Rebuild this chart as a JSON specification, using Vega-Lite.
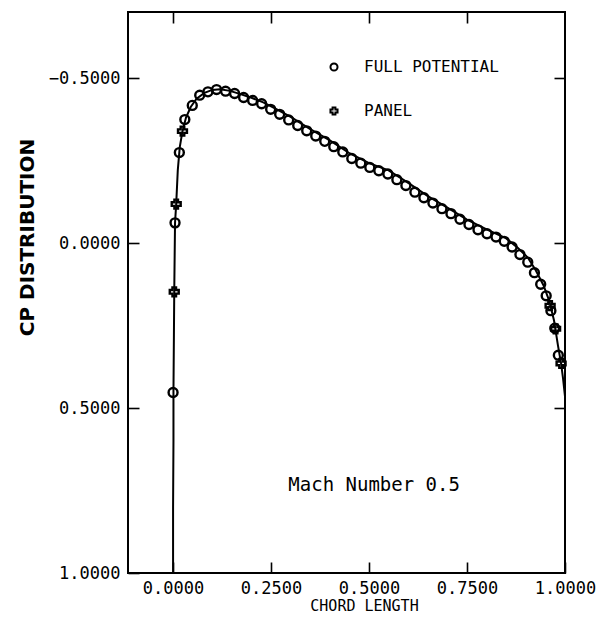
{
  "$schema": "https://vega.github.io/schema/vega-lite/v6.json",
  "width": 437,
  "height": 561,
  "autosize": {"type": "none"},
  "padding": {"left": 128, "top": 12, "right": 43, "bottom": 50},
  "background": "white",
  "config": {
    "view": {"stroke": "black", "strokeWidth": 2},
    "axis": {
      "domain": false,
      "grid": false,
      "tickColor": "black",
      "tickWidth": 1.6,
      "tickSize": -11,
      "labelFont": "DejaVu Sans Mono",
      "labelFontSize": 17,
      "labelColor": "black",
      "labelFlush": false,
      "labelOverlap": false,
      "titleColor": "black"
    }
  },
  "datasets": {
    "panel": [
      {"x": 0.0, "cp": 1.0}, {"x": 0.0, "cp": 0.8}, {"x": 0.001, "cp": 0.6}, {"x": 0.001, "cp": 0.453},
      {"x": 0.002, "cp": 0.3}, {"x": 0.003, "cp": 0.148}, {"x": 0.005, "cp": -0.061}, {"x": 0.008, "cp": -0.118},
      {"x": 0.012, "cp": -0.22}, {"x": 0.017, "cp": -0.29}, {"x": 0.024, "cp": -0.339}, {"x": 0.033, "cp": -0.38},
      {"x": 0.045, "cp": -0.412}, {"x": 0.06, "cp": -0.437}, {"x": 0.08, "cp": -0.455}, {"x": 0.1, "cp": -0.464},
      {"x": 0.12, "cp": -0.466}, {"x": 0.145, "cp": -0.461}, {"x": 0.17, "cp": -0.452}, {"x": 0.2, "cp": -0.44},
      {"x": 0.23, "cp": -0.426}, {"x": 0.26, "cp": -0.408}, {"x": 0.3, "cp": -0.382}, {"x": 0.35, "cp": -0.345},
      {"x": 0.4, "cp": -0.311}, {"x": 0.45, "cp": -0.272}, {"x": 0.5, "cp": -0.242}, {"x": 0.55, "cp": -0.22},
      {"x": 0.6, "cp": -0.182}, {"x": 0.65, "cp": -0.142}, {"x": 0.7, "cp": -0.107}, {"x": 0.75, "cp": -0.071},
      {"x": 0.8, "cp": -0.041}, {"x": 0.85, "cp": -0.014}, {"x": 0.88, "cp": 0.015}, {"x": 0.905, "cp": 0.044},
      {"x": 0.925, "cp": 0.082}, {"x": 0.945, "cp": 0.128}, {"x": 0.96, "cp": 0.176}, {"x": 0.972, "cp": 0.235},
      {"x": 0.982, "cp": 0.31}, {"x": 0.99, "cp": 0.365}, {"x": 0.995, "cp": 0.41}, {"x": 1.0, "cp": 0.465}
    ],
    "points": [
      {"series": "FULL POTENTIAL", "x": 0.0, "cp": 0.453}, {"series": "FULL POTENTIAL", "x": 0.005, "cp": -0.061},
      {"series": "FULL POTENTIAL", "x": 0.016, "cp": -0.274}, {"series": "FULL POTENTIAL", "x": 0.03, "cp": -0.374},
      {"series": "FULL POTENTIAL", "x": 0.049, "cp": -0.417}, {"series": "FULL POTENTIAL", "x": 0.068, "cp": -0.448},
      {"series": "FULL POTENTIAL", "x": 0.089, "cp": -0.458}, {"series": "FULL POTENTIAL", "x": 0.111, "cp": -0.465},
      {"series": "FULL POTENTIAL", "x": 0.134, "cp": -0.46}, {"series": "FULL POTENTIAL", "x": 0.157, "cp": -0.453},
      {"series": "FULL POTENTIAL", "x": 0.18, "cp": -0.441}, {"series": "FULL POTENTIAL", "x": 0.203, "cp": -0.432},
      {"series": "FULL POTENTIAL", "x": 0.226, "cp": -0.422}, {"series": "FULL POTENTIAL", "x": 0.249, "cp": -0.405},
      {"series": "FULL POTENTIAL", "x": 0.272, "cp": -0.39}, {"series": "FULL POTENTIAL", "x": 0.295, "cp": -0.373},
      {"series": "FULL POTENTIAL", "x": 0.318, "cp": -0.356}, {"series": "FULL POTENTIAL", "x": 0.341, "cp": -0.34},
      {"series": "FULL POTENTIAL", "x": 0.364, "cp": -0.324}, {"series": "FULL POTENTIAL", "x": 0.387, "cp": -0.308},
      {"series": "FULL POTENTIAL", "x": 0.41, "cp": -0.292}, {"series": "FULL POTENTIAL", "x": 0.433, "cp": -0.276},
      {"series": "FULL POTENTIAL", "x": 0.456, "cp": -0.256}, {"series": "FULL POTENTIAL", "x": 0.479, "cp": -0.242},
      {"series": "FULL POTENTIAL", "x": 0.502, "cp": -0.229}, {"series": "FULL POTENTIAL", "x": 0.525, "cp": -0.219},
      {"series": "FULL POTENTIAL", "x": 0.548, "cp": -0.209}, {"series": "FULL POTENTIAL", "x": 0.571, "cp": -0.192},
      {"series": "FULL POTENTIAL", "x": 0.594, "cp": -0.174}, {"series": "FULL POTENTIAL", "x": 0.617, "cp": -0.154},
      {"series": "FULL POTENTIAL", "x": 0.64, "cp": -0.137}, {"series": "FULL POTENTIAL", "x": 0.663, "cp": -0.121},
      {"series": "FULL POTENTIAL", "x": 0.686, "cp": -0.104}, {"series": "FULL POTENTIAL", "x": 0.709, "cp": -0.089},
      {"series": "FULL POTENTIAL", "x": 0.732, "cp": -0.072}, {"series": "FULL POTENTIAL", "x": 0.755, "cp": -0.056},
      {"series": "FULL POTENTIAL", "x": 0.778, "cp": -0.04}, {"series": "FULL POTENTIAL", "x": 0.801, "cp": -0.028},
      {"series": "FULL POTENTIAL", "x": 0.824, "cp": -0.018}, {"series": "FULL POTENTIAL", "x": 0.845, "cp": -0.005},
      {"series": "FULL POTENTIAL", "x": 0.865, "cp": 0.012}, {"series": "FULL POTENTIAL", "x": 0.885, "cp": 0.035},
      {"series": "FULL POTENTIAL", "x": 0.905, "cp": 0.058}, {"series": "FULL POTENTIAL", "x": 0.922, "cp": 0.09},
      {"series": "FULL POTENTIAL", "x": 0.938, "cp": 0.125}, {"series": "FULL POTENTIAL", "x": 0.952, "cp": 0.16},
      {"series": "FULL POTENTIAL", "x": 0.964, "cp": 0.205}, {"series": "FULL POTENTIAL", "x": 0.974, "cp": 0.258},
      {"series": "FULL POTENTIAL", "x": 0.983, "cp": 0.34},
      {"series": "PANEL", "x": 0.003, "cp": 0.148}, {"series": "PANEL", "x": 0.008, "cp": -0.118},
      {"series": "PANEL", "x": 0.024, "cp": -0.339}, {"series": "PANEL", "x": 0.962, "cp": 0.19},
      {"series": "PANEL", "x": 0.976, "cp": 0.26}, {"series": "PANEL", "x": 0.99, "cp": 0.365}
    ],
    "note": [{"label": "Mach Number 0.5"}]
  },
  "layer": [
    {
      "data": {"name": "panel"},
      "mark": {"type": "line", "color": "black", "strokeWidth": 2},
      "encoding": {
        "x": {
          "field": "x", "type": "quantitative",
          "scale": {"domain": [-0.115, 1.0], "nice": false, "zero": false},
          "axis": {
            "orient": "bottom", "values": [0, 0.25, 0.5, 0.75, 1], "format": ".4f",
            "labelPadding": 18,
            "title": "CHORD LENGTH", "titleFont": "DejaVu Sans Mono", "titleFontSize": 15, "titleFontWeight": "normal",
            "titleX": 236, "titleY": 32, "titleBaseline": "middle", "titleAlign": "center"
          }
        },
        "y": {
          "field": "cp", "type": "quantitative",
          "scale": {"domain": [-0.7, 1.0], "nice": false, "zero": false, "reverse": true},
          "axis": {
            "orient": "left", "values": [-0.5, 0, 0.5, 1], "format": ".4f",
            "labelPadding": 19,
            "title": "CP DISTRIBUTION", "titleFont": "DejaVu Sans", "titleFontSize": 20, "titleFontWeight": "bold",
            "titleX": -101, "titleY": 225, "titleBaseline": "middle", "titleAlign": "center", "titleAngle": 270
          }
        }
      }
    },
    {
      "data": {"name": "points"},
      "mark": {"type": "point", "filled": false, "color": "black", "strokeWidth": 2.4, "opacity": 1, "size": 80},
      "encoding": {
        "x": {
          "field": "x", "type": "quantitative",
          "axis": {"orient": "top", "values": [0, 0.25, 0.5, 0.75], "labels": false, "title": null}
        },
        "y": {
          "field": "cp", "type": "quantitative",
          "axis": {"orient": "right", "values": [-0.5, 0, 0.5], "labels": false, "title": null}
        },
        "shape": {
          "field": "series", "type": "nominal",
          "scale": {"domain": ["FULL POTENTIAL", "PANEL"], "range": ["circle", "cross"]},
          "legend": {
            "orient": "none", "legendX": 198, "legendY": 47, "title": null, "padding": 0,
            "labelFont": "DejaVu Sans Mono", "labelFontSize": 16, "labelColor": "black",
            "symbolSize": 50, "symbolStrokeColor": "black", "symbolStrokeWidth": 2,
            "rowPadding": 28, "labelOffset": 22
          }
        }
      }
    },
    {
      "data": {"name": "note"},
      "mark": {"type": "text", "font": "DejaVu Sans Mono", "fontSize": 19, "color": "black", "align": "center", "baseline": "middle"},
      "encoding": {
        "x": {"datum": 0.513, "type": "quantitative", "axis": null},
        "y": {"datum": 0.733, "type": "quantitative", "axis": null},
        "text": {"field": "label", "type": "nominal"}
      }
    }
  ],
  "resolve": {"axis": {"x": "independent", "y": "independent"}}
}
